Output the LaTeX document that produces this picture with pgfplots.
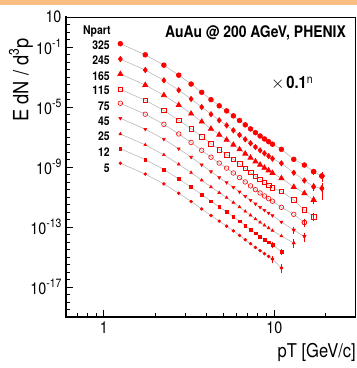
\documentclass[border=0pt]{standalone}
\usepackage{fontspec}
\setmainfont{TeX Gyre Heros}[FakeStretch=0.87]
\usepackage{pgfplots}
\pgfplotsset{compat=1.18}
\definecolor{rootred}{RGB}{255,0,0}
\definecolor{fitgray}{RGB}{185,185,185}
\definecolor{banner}{RGB}{250,190,130}
\newcommand{\ex}[1]{\raisebox{0.42em}{\fontsize{12}{12}\selectfont #1}}
\pgfplotsset{
  ser/.style={draw=fitgray, line width=0.6pt},
  mk/.style={mark options={solid, draw=rootred, fill=rootred, line width=0.6pt}},
  mkdown/.style={mark options={solid, draw=rootred, fill=rootred, line width=0.6pt, rotate=180}},
  errs/.style={only marks,
    error bars/y dir=both, error bars/y explicit, error bars/error bar style={rootred, line width=0.7pt},
    error bars/error mark options={rootred, line width=0.7pt, mark size=1.6pt}},
}
\begin{document}
\begin{tikzpicture}
\useasboundingbox (0pt,0pt) rectangle (357pt,368pt);
\fill[banner] (0pt,363pt) rectangle (357pt,368pt);
\begin{axis}[
  at={(66pt,51pt)}, anchor=south west, scale only axis, width=289.7pt, height=300pt,
  xmode=log, ymode=log, xmin=0.6, xmax=30, ymin=1e-19, ymax=10,
  xtick={1,10}, xticklabels={1,10},
  minor xtick={0.7,0.8,0.9,2,3,4,5,6,7,8,9,20},
  ytick={1e1,1e-1,1e-5,1e-9,1e-13,1e-17},
  yticklabels={10,10\ex{-1},10\ex{-5},10\ex{-9},10\ex{-13},10\ex{-17}},
  minor ytick={1e-19,3.16e-19,1e-18,3.16e-18,1e-17,3.16e-17,1e-16,3.16e-16,1e-15,3.16e-15,1e-14,3.16e-14,1e-13,3.16e-13,1e-12,3.16e-12,1e-11,3.16e-11,1e-10,3.16e-10,1e-9,3.16e-9,1e-8,3.16e-8,1e-7,3.16e-7,1e-6,3.16e-6,1e-5,3.16e-5,1e-4,3.16e-4,1e-3,3.16e-3,1e-2,3.16e-2,1e-1,3.16e-1,1,3.16},
  tick align=inside, tick pos=left,
  major tick length=7.5pt, minor tick length=4pt,
  every tick/.style={black, line width=0.9pt},
  axis line style={line width=0.8pt},
  ticklabel style={font=\fontsize{16.5}{18}\selectfont},
  yticklabel style={xshift=-1pt},
  xticklabel style={yshift=-1pt},
  clip=false,
]
% Npart 325
\addplot[ser, mark=*, mark size=2.4pt, mk] coordinates {(1.25,1.66e-1)(1.75,3.02e-2)(2.25,6.17e-3)(2.75,1.32e-3)(3.25,3.39e-4)(3.75,9.55e-5)(4.25,3.09e-5)(4.75,1.20e-5)(5.25,5.50e-6)(5.75,2.57e-6)(6.25,1.26e-6)(6.75,6.46e-7)(7.25,3.47e-7)(7.75,1.95e-7)(8.25,1.17e-7)(8.75,7.41e-8)(9.25,4.90e-8)(9.75,3.31e-8)(11,1.51e-8)(13,3.24e-9)(15,1.35e-9)(17,4.90e-10)(19,2.51e-10)};
\addplot[errs, mark=*, mark size=2.4pt, mk] coordinates {(17,4.90e-10) +- (0,1.2e-10) (19,2.51e-10) +- (0,1.25e-10)};
% Npart 245
\addplot[ser, mark=diamond*, mark size=2.7pt, mk] coordinates {(1.25,1.585e-2)(1.75,2.91e-3)(2.25,6.03e-4)(2.75,1.32e-4)(3.25,3.44e-5)(3.75,9.93e-6)(4.25,3.29e-6)(4.75,1.30e-6)(5.25,5.96e-7)(5.75,2.79e-7)(6.25,1.37e-7)(6.75,7.05e-8)(7.25,3.80e-8)(7.75,2.14e-8)(8.25,1.29e-8)(8.75,8.13e-9)(9.25,5.37e-9)(9.75,3.63e-9)(11,1.77e-9)(13,4.17e-10)(15,1.26e-10)(17,4.90e-11)(19,3.80e-11)};
\addplot[errs, mark=diamond*, mark size=2.7pt, mk] coordinates {(17,4.90e-11) +- (0,1.5e-11) (19,3.80e-11) +- (0,3.0e-11)};
% Npart 165
\addplot[ser, mark=triangle*, mark size=3pt, mk] coordinates {(1.25,1.585e-3)(1.75,2.92e-4)(2.25,6.11e-5)(2.75,1.35e-5)(3.25,3.58e-6)(3.75,1.05e-6)(4.25,3.53e-7)(4.75,1.41e-7)(5.25,6.47e-8)(5.75,3.05e-8)(6.25,1.50e-8)(6.75,7.71e-9)(7.25,4.17e-9)(7.75,2.34e-9)(8.25,1.41e-9)(8.75,8.91e-10)(9.25,5.89e-10)(9.75,3.98e-10)(11,1.77e-10)(13,4.68e-11)(15,1.77e-11)(17,6.31e-12)};
\addplot[errs, mark=triangle*, mark size=3pt, mk] coordinates {(17,6.31e-12) +- (0,2.2e-12)};
% Npart 115
\addplot[ser, mark=square, mark size=2.3pt, mk] coordinates {(1.25,1.51e-4)(1.75,2.81e-5)(2.25,5.92e-6)(2.75,1.33e-6)(3.25,3.56e-7)(3.75,1.06e-7)(4.25,3.62e-8)(4.75,1.46e-8)(5.25,6.71e-9)(5.75,3.18e-9)(6.25,1.57e-9)(6.75,8.05e-10)(7.25,4.37e-10)(7.75,2.45e-10)(8.25,1.48e-10)(8.75,9.33e-11)(9.25,6.17e-11)(9.75,4.17e-11)(11,2.40e-11)(13,6.31e-12)(15,1.36e-12)(17,4.86e-13)};
\addplot[errs, mark=square, mark size=2.3pt, mk] coordinates {(17,4.86e-13) +- (0,1.8e-13)};
% Npart 75
\addplot[ser, mark=o, mark size=2.3pt, mk] coordinates {(1.25,1.78e-5)(1.75,3.31e-6)(2.25,7.03e-7)(2.75,1.60e-7)(3.25,4.32e-8)(3.75,1.30e-8)(4.25,4.50e-9)(4.75,1.82e-9)(5.25,8.41e-10)(5.75,3.98e-10)(6.25,1.97e-10)(6.75,1.01e-10)(7.25,5.50e-11)(7.75,3.09e-11)(8.25,1.86e-11)(8.75,1.17e-11)(9.25,7.76e-12)(9.75,5.25e-12)(11,2.06e-12)(13,7.03e-13)(15,2.00e-13)};
\addplot[errs, mark=o, mark size=2.3pt, mk] coordinates {(15,2.00e-13) +- (0,7e-14)};
% Npart 45
\addplot[ser, mark=triangle*, mark size=1.7pt, mkdown] coordinates {(1.25,1.78e-6)(1.75,3.33e-7)(2.25,7.16e-8)(2.75,1.65e-8)(3.25,4.54e-9)(3.75,1.40e-9)(4.25,4.92e-10)(4.75,2.01e-10)(5.25,9.33e-11)(5.75,4.44e-11)(6.25,2.20e-11)(6.75,1.13e-11)(7.25,6.17e-12)(7.75,3.47e-12)(8.25,2.09e-12)(8.75,1.32e-12)(9.25,8.71e-13)(9.75,5.89e-13)(11,2.15e-13)(13,6.31e-14)(15,2.33e-14)};
\addplot[errs, mark=triangle*, mark size=1.7pt, mkdown] coordinates {(13,6.31e-14) +- (0,2e-14) (15,2.33e-14) +- (0,1.0e-14)};
% Npart 25
\addplot[ser, mark=triangle*, mark size=1.6pt, mk] coordinates {(1.25,1.585e-7)(1.75,2.99e-8)(2.25,6.49e-9)(2.75,1.52e-9)(3.25,4.21e-10)(3.75,1.32e-10)(4.25,4.71e-11)(4.75,1.95e-11)(5.25,9.06e-12)(5.75,4.31e-12)(6.25,2.15e-12)(6.75,1.10e-12)(7.25,6.03e-13)(7.75,3.39e-13)(8.25,2.04e-13)(8.75,1.29e-13)(9.25,8.51e-14)(9.75,5.75e-14)(11,2.51e-14)(13,8.57e-15)};
\addplot[errs, mark=triangle*, mark size=1.6pt, mk] coordinates {(13,8.57e-15) +- (0,3.5e-15)};
% Npart 12
\addplot[ser, mark=square*, mark size=1.4pt, mk] coordinates {(1.25,1.66e-8)(1.75,3.14e-9)(2.25,6.85e-10)(2.75,1.62e-10)(3.25,4.55e-11)(3.75,1.45e-11)(4.25,5.20e-12)(4.75,2.16e-12)(5.25,1.01e-12)(5.75,4.82e-13)(6.25,2.40e-13)(6.75,1.23e-13)(7.25,6.76e-14)(7.75,3.80e-14)(8.25,2.29e-14)(8.75,1.45e-14)(9.25,9.55e-15)(9.75,6.46e-15)(11,2.25e-15)};
\addplot[errs, mark=square*, mark size=1.4pt, mk] coordinates {(9.75,6.46e-15) +- (0,1.6e-15) (11,2.25e-15) +- (0,6e-16)};
% Npart 5
\addplot[ser, mark=*, mark size=1.4pt, mk] coordinates {(1.25,1.78e-9)(1.75,3.38e-10)(2.25,7.43e-11)(2.75,1.77e-11)(3.25,5.02e-12)(3.75,1.61e-12)(4.25,5.89e-13)(4.75,2.47e-13)(5.25,1.15e-13)(5.75,5.51e-14)(6.25,2.75e-14)(6.75,1.41e-14)(7.25,7.76e-15)(7.75,4.37e-15)(8.25,2.63e-15)(8.75,1.66e-15)(9.25,1.10e-15)(9.75,7.41e-16)(11,1.86e-16)};
\addplot[errs, mark=*, mark size=1.4pt, mk] coordinates {(9.75,7.41e-16) +- (0,2e-16) (11,1.86e-16) +- (0,8e-17)};
\draw[line width=1.6pt, line cap=rect] (rel axis cs:0,1) -- (rel axis cs:0,0) -- (rel axis cs:1,0);
\end{axis}
% texts
\node[anchor=east, font=\fontsize{16}{18}\selectfont\bfseries, inner sep=0] at (346pt,335.5pt) {AuAu @ 200 AGeV, PHENIX};
\node[anchor=west, font=\fontsize{12}{14}\selectfont\bfseries, inner sep=0] at (83pt,337pt) {Npart};
\foreach \lab/\yy in {325/323,245/307.3,165/292,115/277.3,75/262,45/246.3,25/231.3,12/215.7,5/199.7}
  \node[anchor=east, font=\fontsize{12}{14}\selectfont\bfseries, inner sep=0] at (110pt,\yy pt) {\lab};
\node[anchor=west, inner sep=0] at (271pt,285pt) {{\fontsize{17}{19}\selectfont$\times$}\,{\fontsize{17}{19}\selectfont\bfseries 0.1}\raisebox{0.5em}{\fontsize{12}{12}\selectfont n}};
\node[anchor=east, inner sep=0, font=\fontsize{19}{21}\selectfont] at (356pt,16pt) {pT [GeV/c]};
\node[rotate=90, inner sep=0, font=\fontsize{21}{23}\selectfont] at (21pt,288pt) {E dN / d\raisebox{0.45em}{\fontsize{14}{14}\selectfont 3}p};
\end{tikzpicture}
\end{document}
